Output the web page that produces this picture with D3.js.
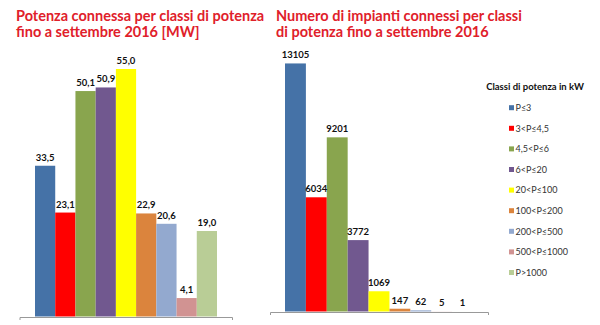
<!DOCTYPE html>
<html><head><meta charset="utf-8">
<script src="https://cdn.jsdelivr.net/npm/d3@7"></script>
<style>body{margin:0;background:#fff}svg{display:block}</style>
</head><body>
<script>
const categories = ["P≤3","3<P≤4,5","4,5<P≤6","6<P≤20","20<P≤100","100<P≤200","200<P≤500","500<P≤1000","P>1000"];
const potenzaMW = [33.5, 23.1, 50.1, 50.9, 55.0, 22.9, 20.6, 4.1, 19.0];
const impianti = [13105, 6034, 9201, 3772, 1069, 147, 62, 5, 1];
const colors = ["#4572a7","#ff0000","#89a54e","#71588f","#ffff00","#db843d","#93a9cf","#d19392","#b9cd96"];
const titleLeft = ["Potenza connessa per classi di potenza","fino a settembre 2016 [MW]"];
const titleRight = ["Numero di impianti connessi per classi","di potenza fino a settembre 2016"];
const legendTitle = "Classi di potenza in kW";

const svg = d3.select("body").append("svg").attr("width",600).attr("height",325);
const font = "Lato, 'Liberation Sans', sans-serif";
const red = "#e0202a";

function title(lines, x){
  svg.append("g").selectAll("text").data(lines).join("text")
    .attr("x", x).attr("y", (d,i)=>21+i*16)
    .attr("font-family", font).attr("font-weight","bold").attr("font-size",14.5)
    .attr("fill", red).text(d=>d);
}
title(titleLeft, 16);
title(titleRight, 276);

function chart(values, xr, axisX, yr, domainMax, fmt){
  const x = d3.scaleBand().domain(categories).range(xr).padding(0);
  const y = d3.scaleLinear().domain([0, domainMax]).range(yr);
  const g = svg.append("g");
  g.selectAll("rect").data(values).join("rect")
    .attr("x",(d,i)=>x(categories[i])).attr("width",x.bandwidth())
    .attr("y",d=>y(d)).attr("height",d=>y(0)-y(d))
    .attr("fill",(d,i)=>colors[i]);
  g.selectAll("text").data(values).join("text")
    .attr("x",(d,i)=>x(categories[i])+x.bandwidth()/2)
    .attr("y",d=>y(d)-5)
    .attr("text-anchor","middle")
    .attr("font-family",font).attr("font-weight","bold").attr("font-size",9.5)
    .attr("fill","#111").text(fmt);
  const ax = d3.axisBottom(d3.scaleLinear().range(axisX)).tickValues([]).tickSizeOuter(3);
  g.append("g").attr("transform",`translate(0,${y(0)+0.5})`).call(ax)
    .call(s=>s.select(".domain").attr("stroke","#999"));
}
const fmtIt = d => d3.format(".1f")(d).replace(".", ",");
chart(potenzaMW, [35,217], [19.5,232], [316.5,46.5], 60, fmtIt);
chart(impianti, [285,473], [270,488], [311.5,46.5], 14000, d=>String(d));

// legend
svg.append("text").attr("x",535).attr("y",90).attr("text-anchor","middle")
  .attr("font-family",font).attr("font-weight","bold").attr("font-size",9.5)
  .attr("fill","#111").text(legendTitle);
const lg = svg.append("g").selectAll("g").data(categories).join("g")
  .attr("transform",(d,i)=>`translate(509,${107.7+i*20.6})`);
lg.append("rect").attr("x",0).attr("y",-2.5).attr("width",5).attr("height",5)
  .attr("fill",(d,i)=>colors[i]);
lg.append("text").attr("x",6.5).attr("y",3.2)
  .attr("font-family",font).attr("font-size",9).attr("fill","#333").text(d=>d);
</script>
</body></html>
